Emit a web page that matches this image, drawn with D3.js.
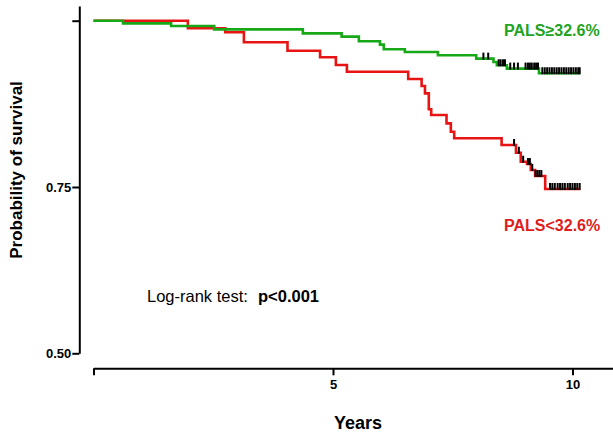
<!DOCTYPE html>
<html><head><meta charset="utf-8">
<script src="https://cdn.jsdelivr.net/npm/d3@7"></script>
<style>body{margin:0;background:#fff}svg{display:block}text{font-family:"Liberation Sans",Arial,sans-serif}</style>
</head><body><div id="chart"></div>
<script>
// Kaplan-Meier step data (time in years, survival probability)
const greenTimes = [0, 0.616, 1.62, 2.52, 4.37, 5.18, 5.54, 5.98, 6.06, 6.50, 7.19, 7.99, 8.35, 8.42, 8.63, 9.30];
const greenSurv  = [1.0, 0.996, 0.992, 0.987, 0.981, 0.976, 0.969, 0.964, 0.957, 0.953, 0.948, 0.943, 0.938, 0.933, 0.928, 0.921];
const greenEnd = 10.16;
const greenCensor = [8.14, 8.24, 8.46, 8.50, 8.55, 8.59, 8.70, 8.78, 8.86, 9.02, 9.07, 9.11, 9.15, 9.20, 9.24, 9.28,
  9.37, 9.42, 9.47, 9.52, 9.57, 9.62, 9.67, 9.72, 9.77, 9.82, 9.87, 9.92, 9.97, 10.02, 10.07, 10.12, 10.15];

const redTimes = [0, 1.97, 2.75, 3.14, 4.05, 4.73, 5.06, 5.29, 6.57, 6.85, 6.92, 7.00, 7.05, 7.37, 7.46, 7.53, 8.52, 8.82, 8.92, 9.05, 9.13, 9.22, 9.43];
const redSurv  = [1.0, 0.9886, 0.9826, 0.9675, 0.9549, 0.945, 0.9334, 0.9233, 0.9123, 0.9018, 0.8908, 0.8668, 0.8582, 0.8457, 0.8331, 0.8232, 0.8131, 0.8015, 0.788, 0.7845, 0.7755, 0.7665, 0.747];
const redEnd = 10.16;
const redCensor = [8.78, 8.88, 8.97, 9.07, 9.11, 9.16, 9.23, 9.27, 9.31, 9.35,
  9.53, 9.58, 9.63, 9.69, 9.74, 9.79, 9.84, 9.90, 9.95, 10.00, 10.05, 10.10, 10.15];

const xTicks = [0, 5, 10];
const xTickLabels = ["", "5", "10"];
const yTicks = [0.5, 0.75, 1.0];
const yTickLabels = ["0.50", "0.75", ""];

const W = 613, H = 434;
const svg = d3.select("#chart").append("svg").attr("width", W).attr("height", H);

const x = d3.scaleLinear().domain([0, 10]).range([93.5, 572.5]);
const xMax = x.invert(W + 2);
const xa = x.copy().domain([0, xMax]).range([93.5, W + 2]);
const y = d3.scaleLinear().domain([0.5, 1.0]).range([353.3, 20.7]);
const yTop = y.invert(6);
const ya = y.copy().domain([0.5, yTop]).range([353.3, 6]);

// Y axis
const gy = svg.append("g").attr("transform", "translate(79.3,0)")
  .call(d3.axisLeft(ya).tickValues(yTicks).tickSize(7).tickSizeOuter(0)
    .tickFormat((d, i) => yTickLabels[i]));
gy.select(".domain").attr("stroke", "#000").attr("stroke-width", 2);
gy.selectAll(".tick line").attr("stroke", "#000").attr("stroke-width", 2);
gy.selectAll(".tick text").attr("font-size", 13).attr("font-weight", "bold")
  .attr("font-family", "Liberation Sans, Arial, sans-serif").attr("fill", "#000").attr("x", -8);

// X axis
const gx = svg.append("g").attr("transform", "translate(0,368.3)")
  .call(d3.axisBottom(xa).tickValues(xTicks).tickSize(7).tickSizeOuter(0)
    .tickFormat((d, i) => xTickLabels[i]));
gx.select(".domain").attr("stroke", "#000").attr("stroke-width", 2);
gx.selectAll(".tick line").attr("stroke", "#000").attr("stroke-width", 2);
gx.selectAll(".tick text").attr("font-size", 13).attr("font-weight", "bold")
  .attr("font-family", "Liberation Sans, Arial, sans-serif").attr("fill", "#000").attr("y", 11);

function stepPoints(times, surv, end) {
  const pts = times.map((t, i) => [t, surv[i]]);
  pts.push([end, surv[surv.length - 1]]);
  return pts;
}
function survAt(times, surv, t) {
  let v = surv[0];
  for (let i = 0; i < times.length; i++) if (times[i] <= t) v = surv[i];
  return v;
}
const line = d3.line().x(d => x(d[0])).y(d => y(d[1])).curve(d3.curveStepAfter);

const RED = "#e81414", GREEN = "#16a816";

svg.append("path").datum(stepPoints(redTimes, redSurv, redEnd))
  .attr("d", line).attr("fill", "none").attr("stroke", RED).attr("stroke-width", 2.6);
svg.append("path").datum(stepPoints(greenTimes, greenSurv, greenEnd))
  .attr("d", line).attr("fill", "none").attr("stroke", GREEN).attr("stroke-width", 2.6);

function censor(times, surv, cens) {
  svg.append("g").selectAll("line").data(cens).join("line")
    .attr("x1", d => x(d)).attr("x2", d => x(d))
    .attr("y1", d => y(survAt(times, surv, d)) - 6)
    .attr("y2", d => y(survAt(times, surv, d)) + 1)
    .attr("stroke", "#000").attr("stroke-width", 2);
}
censor(greenTimes, greenSurv, greenCensor);
censor(redTimes, redSurv, redCensor);

// Labels
svg.append("text").attr("x", 504).attr("y", 36).attr("font-size", 16).attr("font-weight", "bold")
  .attr("fill", "#22a322").text("PALS≥32.6%");
svg.append("text").attr("x", 504).attr("y", 231).attr("font-size", 16).attr("font-weight", "bold")
  .attr("fill", "#e01c1c").text("PALS<32.6%");

const lr = svg.append("text").attr("x", 147).attr("y", 302).attr("font-size", 16.5).attr("fill", "#000");
lr.append("tspan").text("Log-rank test:");
lr.append("tspan").attr("x", 258).attr("font-weight", "bold").text("p<0.001");

svg.append("text").attr("transform", "translate(22,170) rotate(-90)").attr("text-anchor", "middle")
  .attr("font-size", 17).attr("font-weight", "bold").attr("fill", "#000").text("Probability of survival");

svg.append("text").attr("x", 358).attr("y", 429).attr("text-anchor", "middle")
  .attr("font-size", 18).attr("font-weight", "bold").attr("fill", "#000").text("Years");
</script></body></html>
